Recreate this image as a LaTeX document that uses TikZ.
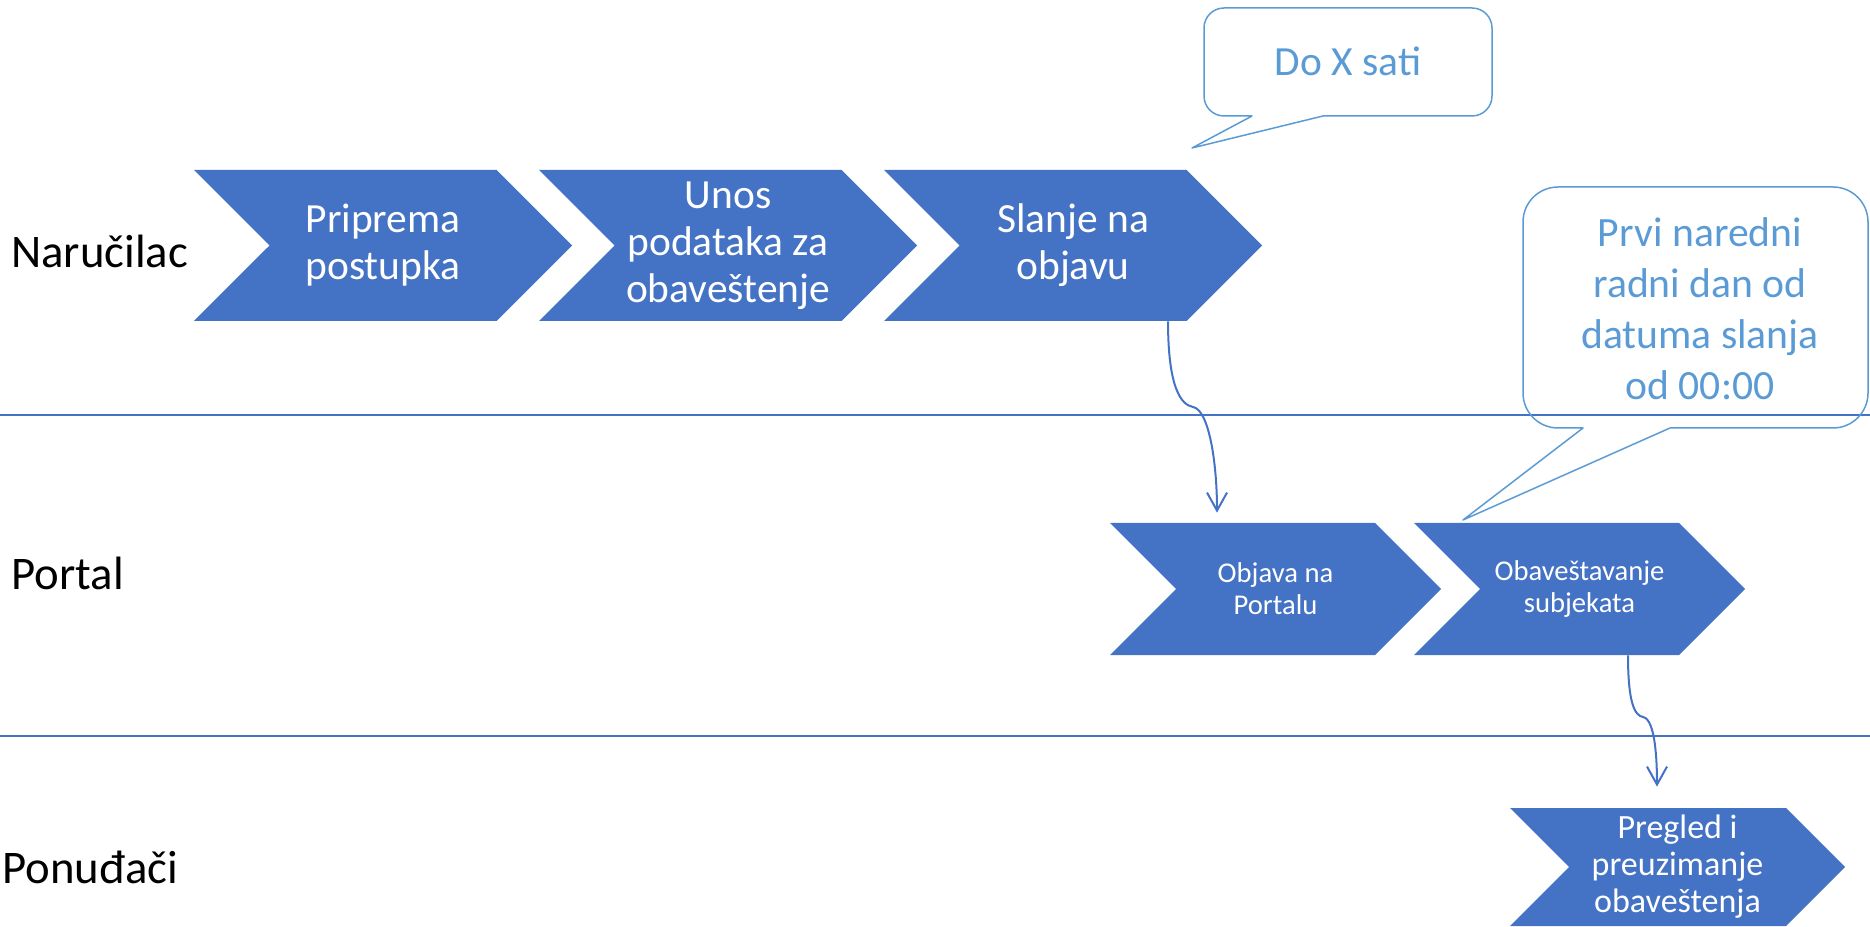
\documentclass[tikz,border=0pt]{standalone}
\usepackage{fontspec}
\setmainfont{Carlito}
\usetikzlibrary{positioning,shapes.symbols,arrows.meta}
\definecolor{chevblue}{HTML}{4472C4}
\definecolor{noteblue}{HTML}{5B9BD5}

\tikzset{
  chevron/.style={shape=signal, signal from=west, signal to=east, signal pointer angle=90,
    fill=chevblue, text=white, inner sep=0pt, align=center},
  chevbig/.style={chevron, minimum width=75.6mm, minimum height=30.2mm,
    font=\fontsize{23.6pt}{26.7pt}\selectfont},
  chevmid/.style={chevron, minimum width=66.2mm, minimum height=26.4mm,
    font=\fontsize{16.3pt}{18.2pt}\selectfont},
  chevsmall/.style={chevron, minimum width=67mm, minimum height=23.6mm,
    font=\fontsize{19.35pt}{21pt}\selectfont},
  lanename/.style={anchor=base west, inner sep=0pt, font=\fontsize{26.6pt}{30pt}\selectfont},
  laneline/.style={draw=chevblue, line width=0.3mm},
  note/.style={text=noteblue, align=center, inner sep=0pt},
  notebox/.style={draw=noteblue, line width=0.3mm, line join=round},
  flow/.style={draw=chevblue, line width=0.4mm, -{Straight Barb[length=3.6mm,width=4mm]}}
}

\begin{document}
\begin{tikzpicture}[x=0.2mm, y=0.2mm, node distance=69mm]
  \useasboundingbox (0,0) rectangle (1870,926);
  % lanes
  \draw[laneline] (0,511) -- (1870,511);
  \draw[laneline] (0,190) -- (1870,190);
  \node[lanename] (L1) at (11,658) {Naručilac};
  \node[lanename] (L2) at (11,336) {Portal};
  \node[lanename] (L3) at (2,43) {Ponuđači};

  % Naručilac
  \node[chevbig] (N1) at (383,680.5) {Priprema\\postupka};
  \node[chevbig] (N2) [right of=N1] {Unos\\podataka za\\obaveštenje};
  \node[chevbig] (N3) [right of=N2] {Slanje na\\objavu};

  % Portal
  \node[chevmid] (P1) at (1275.5,337) {Objava na\\Portalu};
  \node[chevmid] (P2) [right of=P1, node distance=60.8mm] {Obaveštavanje\\subjekata};

  % Ponuđači
  \node[chevsmall] (U1) at (1677.5,59) {Pregled i\\preuzimanje\\obaveštenja};

  \coordinate (K1) at (1193,519);
  \coordinate (K2) at (1643,209);
  \draw[flow, shorten >=2mm] ([xshift=19mm]N3.south) to[out=-90,in=170,out looseness=1.9,in looseness=0.35] (K1)
    to[out=-10,in=90,out looseness=0.35,in looseness=1.3] ([xshift=-11.7mm]P1.north);
  \draw[flow, shorten >=4.2mm] ([xshift=9.7mm]P2.south) to[out=-90,in=170,out looseness=1.9,in looseness=0.35] (K2)
    to[out=-10,in=90,out looseness=0.35,in looseness=1.3] ([xshift=-4.1mm]U1.north);

  % callouts
  \node[note, font=\fontsize{23.6pt}{28pt}\selectfont] (C1) at (1348,865) {Do X sati};
  \draw[notebox] (1323,810) -- (1472,810) arc[start angle=-90,end angle=0,radius=4mm]
    -- (1492,898) arc[start angle=0,end angle=90,radius=4mm]
    -- (1224,918) arc[start angle=90,end angle=180,radius=4mm]
    -- (1204,830) arc[start angle=180,end angle=270,radius=4mm]
    -- (1252,810) -- (1192,778) -- cycle;
  \node[note, font=\fontsize{23.7pt}{29pt}\selectfont] (C2) at (1700,617.5) {Prvi naredni\\radni dan od\\datuma slanja\\od 00:00};
  \draw[notebox] (1670,498) -- (1833,498) arc[start angle=-90,end angle=0,radius=7mm]
    -- (1868,704) arc[start angle=0,end angle=90,radius=7mm]
    -- (1558,739) arc[start angle=90,end angle=180,radius=7mm]
    -- (1523,533) arc[start angle=180,end angle=270,radius=7mm]
    -- (1583,498) -- (1463,406) -- cycle;
\end{tikzpicture}
\end{document}
